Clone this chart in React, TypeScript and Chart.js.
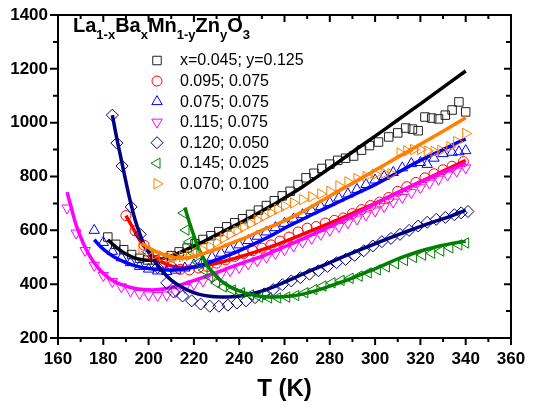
import React, { useEffect, useRef } from 'react';
import { Chart, registerables } from 'chart.js';

Chart.register(...registerables);

const FONT = '"Liberation Sans", Arial, Helvetica, sans-serif';

// Axes
const X_MIN = 160, X_MAX = 360, X_STEP = 20, X_MINOR = 10;
const Y_MIN = 200, Y_MAX = 1400, Y_STEP = 200, Y_MINOR = 100;
const X_TITLE = 'T (K)';

// Title: La(1-x)Ba(x)Mn(1-y)Zn(y)O(3)  [text, isSubscript]
const TITLE_PARTS: [string, number][] = [
  ['La', 0], ['1-x', 1], ['Ba', 0], ['x', 1], ['Mn', 0], ['1-y', 1], ['Zn', 0], ['y', 1], ['O', 0], ['3', 1],
];

const LABELS = [
  'x=0.045; y=0.125',
  '0.095; 0.075',
  '0.075; 0.075',
  '0.115; 0.075',
  '0.120; 0.050',
  '0.145; 0.025',
  '0.070; 0.100',
];

// Series 1: x=0.045; y=0.125 (squares, black)
const s1T = [182, 185.5, 189, 192.5, 196, 199.5, 203, 206.5, 210, 213.5, 217, 220.5, 224, 227.5, 231, 234.5, 238, 241.5, 245, 248.5, 252, 255.5, 259, 262.5, 266, 269.5, 273, 276.5, 280, 283.5, 287, 290.5, 294, 297.5, 301.5, 306, 310, 313.5, 316.5, 319, 322, 325, 328, 331, 334, 337, 340];
const s1R = [575, 548, 528, 510, 496, 490, 490, 497, 506, 520, 534, 550, 566, 580, 595, 613, 628, 643, 659, 675, 692, 710, 728, 745, 770, 795, 812, 830, 846, 860, 868, 876, 898, 915, 928, 947, 962, 980, 976, 970, 1021, 1017, 1014, 1028, 1047, 1077, 1040];
const f1T = [182, 186, 190, 194, 198, 202, 206, 210, 215, 220, 226, 232, 238, 244, 250, 256, 262, 268, 276, 284, 292, 300, 310, 320, 330, 340];
const f1R = [565, 535, 512, 497, 490, 490, 495, 505, 522, 542, 566, 592, 618, 644, 672, 700, 730, 762, 808, 855, 903, 950, 1010, 1070, 1131, 1192];

// Series 2: 0.095; 0.075 (circles, red)
const s2T = [190, 194, 198, 202, 206, 210, 214, 218, 222, 226, 230, 234, 238, 242, 246, 250, 254, 258, 262, 266, 270, 274, 278, 282, 286, 290, 294, 298, 302, 306, 310, 314, 318, 322, 326, 330, 334, 339];
const s2R = [655, 598, 545, 505, 480, 465, 455, 453, 460, 466, 478, 490, 503, 514, 524, 534, 546, 560, 575, 594, 608, 614, 627, 637, 646, 662, 677, 692, 705, 722, 745, 762, 778, 795, 810, 825, 838, 855];
const f2T = [190, 193, 196, 199, 202, 206, 210, 214, 218, 224, 230, 236, 242, 248, 254, 260, 270, 280, 290, 300, 310, 320, 330, 340];
const f2R = [655, 610, 565, 530, 505, 482, 468, 462, 462, 468, 478, 491, 506, 522, 539, 558, 592, 627, 663, 700, 740, 780, 820, 860];

// Series 3: 0.075; 0.075 (up triangles, blue)
const s3T = [176, 180, 184, 188, 192, 196, 200, 204, 208, 212, 216, 220, 224, 228, 232, 236, 240, 244, 248, 252, 256, 260, 264, 268, 272, 276, 280, 284, 288, 292, 296, 300, 304, 308, 312, 316, 320, 323, 326, 330, 334, 337, 340];
const s3R = [600, 555, 522, 498, 480, 466, 456, 449, 447, 452, 460, 472, 485, 500, 515, 530, 546, 562, 578, 594, 610, 626, 642, 658, 673, 688, 703, 720, 735, 752, 770, 787, 800, 815, 832, 848, 852, 845, 868, 885, 890, 892, 896];
const f3T = [176, 180, 185, 190, 195, 200, 206, 212, 218, 224, 230, 236, 242, 248, 254, 260, 266, 272, 280, 290, 300, 310, 320, 330, 340];
const f3R = [565, 530, 500, 480, 466, 458, 453, 453, 460, 472, 490, 510, 532, 555, 580, 608, 633, 658, 690, 730, 770, 815, 860, 900, 940];

// Series 4: 0.115; 0.075 (down triangles, magenta)
const s4T = [164, 168, 172, 176, 180, 184, 188, 192, 196, 200, 204, 208, 212, 216, 220, 224, 228, 232, 236, 240, 244, 248, 252, 256, 260, 264, 268, 272, 276, 280, 284, 288, 292, 296, 300, 304, 308, 312, 316, 320, 324, 328, 332, 336, 340];
const s4R = [683, 590, 525, 470, 432, 410, 390, 375, 365, 360, 358, 360, 372, 388, 400, 412, 425, 437, 450, 462, 475, 487, 500, 514, 528, 542, 556, 570, 585, 600, 614, 628, 642, 657, 672, 688, 705, 722, 740, 758, 775, 790, 805, 820, 832];
const f4T = [164, 166, 168, 171, 174, 177, 180, 184, 188, 193, 198, 203, 208, 213, 218, 224, 230, 236, 242, 249, 256, 263, 270, 280, 290, 300, 310, 320, 330, 340];
const f4R = [742, 680, 620, 555, 505, 468, 440, 414, 398, 386, 380, 379, 384, 394, 408, 425, 443, 462, 481, 500, 525, 550, 576, 614, 655, 698, 740, 780, 815, 850];

// Series 5: 0.120; 0.050 (diamonds, navy)
const s5T = [184, 186, 188.3, 192.3, 196.3, 200, 204, 208, 211, 215, 219, 223, 227, 231, 235, 239, 243, 247, 251, 255, 259, 263, 267, 271, 275, 279, 283, 287, 291, 295, 299, 303, 307, 311, 315, 319, 323, 327, 331, 335, 338, 341];
const s5R = [1028, 924, 839, 687, 585, 520, 462, 405, 371, 356, 338, 326, 318, 318, 322, 330, 338, 350, 364, 380, 398, 412, 424, 437, 450, 466, 480, 492, 507, 524, 542, 558, 570, 585, 600, 616, 630, 641, 648, 658, 665, 670];
const f5T = [184, 186, 188, 190, 192, 194, 196, 198, 201, 204, 207, 210, 214, 218, 222, 227, 232, 237, 242, 247, 252, 258, 264, 270, 278, 286, 294, 302, 310, 318, 326, 334, 340];
const f5R = [1028, 940, 860, 780, 705, 640, 590, 548, 505, 470, 440, 415, 392, 375, 363, 355, 352, 353, 358, 367, 380, 400, 422, 445, 473, 502, 530, 557, 583, 608, 632, 655, 675];

// Series 6: 0.145; 0.025 (left triangles, green)
const s6T = [215.5, 216.5, 218, 220, 222, 224.5, 227, 230, 233, 237, 241, 245, 249, 253, 257, 261, 265, 269, 273, 277, 281, 285, 289, 293, 297, 301, 305, 309, 313, 317, 321, 325, 329, 333, 337, 340];
const s6R = [664, 601, 557, 515, 480, 452, 427, 405, 390, 378, 368, 360, 352, 349, 349, 352, 358, 368, 380, 393, 405, 414, 422, 430, 442, 453, 464, 476, 488, 499, 508, 515, 523, 535, 546, 553];
const f6T = [216, 218, 220, 222, 224, 226, 229, 232, 236, 240, 245, 250, 256, 262, 268, 274, 280, 286, 292, 298, 304, 310, 316, 322, 328, 334, 340];
const f6R = [685, 630, 580, 535, 500, 468, 438, 412, 390, 375, 362, 354, 352, 355, 363, 376, 393, 410, 430, 450, 472, 494, 512, 528, 541, 551, 560];

// Series 7: 0.070; 0.100 (right triangles, orange)
const s7T = [197, 200, 203, 206, 209, 212, 215, 218, 221, 224, 227, 230, 233, 236, 239, 242, 245, 248, 251, 254, 257, 260, 264, 268, 272, 276, 280, 284, 288, 292, 296, 300, 304, 307, 311, 314, 317, 320, 323, 326, 329, 333, 336, 340];
const s7R = [534, 522, 512, 505, 500, 500, 502, 507, 515, 527, 540, 555, 570, 585, 598, 612, 625, 638, 652, 665, 678, 690, 702, 714, 725, 735, 745, 765, 780, 792, 800, 808, 812, 810, 887, 895, 900, 900, 895, 893, 897, 910, 930, 960];
const f7T = [197, 200, 204, 208, 212, 216, 220, 226, 232, 238, 244, 250, 258, 267, 277, 290, 300, 310, 320, 330, 340];
const f7R = [553, 535, 518, 505, 498, 497, 503, 518, 537, 557, 577, 600, 628, 665, 713, 775, 823, 872, 920, 968, 1018];

const MARKER_COLORS = ['#222222', '#ff0000', '#0000ff', '#ff00ff', '#000080', '#008000', '#ff8000'];
const LINE_COLORS = ['#000000', '#ff0000', '#0000ff', '#ff00ff', '#000080', '#008000', '#ff8000'];
const STYLES = ['rect', 'circle', 'triangle', 'triangle', 'rectRot', 'triangle', 'triangle'];
const ROTATIONS = [0, 0, 0, 180, 0, 270, 90];
const RADII = [6, 5, 6, 6, 6, 6, 6];

const SCATTER_T = [s1T, s2T, s3T, s4T, s5T, s6T, s7T];
const SCATTER_R = [s1R, s2R, s3R, s4R, s5R, s6R, s7R];
const FIT_T = [f1T, f2T, f3T, f4T, f5T, f6T, f7T];
const FIT_R = [f1R, f2R, f3R, f4R, f5R, f6R, f7R];

function pts(T: number[], R: number[]) {
  return T.map((t, i) => ({ x: t, y: R[i] }));
}

function drawMarker(ctx: CanvasRenderingContext2D, k: number, x: number, y: number) {
  const r = RADII[k];
  ctx.beginPath();
  if (STYLES[k] === 'circle') {
    ctx.arc(x, y, r, 0, Math.PI * 2);
  } else if (STYLES[k] === 'rect') {
    const s = r * Math.SQRT1_2;
    ctx.rect(x - s, y - s, 2 * s, 2 * s);
  } else if (STYLES[k] === 'rectRot') {
    ctx.moveTo(x, y - r);
    ctx.lineTo(x + r, y);
    ctx.lineTo(x, y + r);
    ctx.lineTo(x - r, y);
    ctx.closePath();
  } else {
    let rad = (ROTATIONS[k] * Math.PI) / 180;
    for (let i = 0; i < 3; i++) {
      const px = x + Math.sin(rad) * r;
      const py = y - Math.cos(rad) * r;
      if (i === 0) ctx.moveTo(px, py); else ctx.lineTo(px, py);
      rad += (2 * Math.PI) / 3;
    }
    ctx.closePath();
  }
  ctx.strokeStyle = MARKER_COLORS[k];
  ctx.lineWidth = 1;
  ctx.stroke();
}

const overlayPlugin = {
  id: 'overlay',
  afterDraw(chart: any) {
    const { ctx, chartArea: a, scales } = chart;
    const xs = scales.x, ys = scales.y;
    ctx.save();
    // frame
    ctx.strokeStyle = '#000';
    ctx.lineWidth = 2;
    ctx.strokeRect(a.left, a.top, a.right - a.left, a.bottom - a.top);
    // x ticks
    for (let v = X_MIN; v <= X_MAX; v += X_MINOR) {
      const px = xs.getPixelForValue(v);
      const major = v % X_STEP === 0;
      ctx.lineWidth = 2;
      ctx.beginPath();
      ctx.moveTo(px, a.bottom);
      ctx.lineTo(px, a.bottom + (major ? 7 : 4));
      ctx.moveTo(px, a.top);
      ctx.lineTo(px, a.top + (major ? 7 : 4));
      ctx.stroke();
    }
    for (let v = Y_MIN; v <= Y_MAX; v += Y_MINOR) {
      const py = ys.getPixelForValue(v);
      const major = v % Y_STEP === 0;
      ctx.lineWidth = 2;
      ctx.beginPath();
      ctx.moveTo(a.left, py);
      ctx.lineTo(a.left - (major ? 8 : 5), py);
      ctx.moveTo(a.right, py);
      ctx.lineTo(a.right - (major ? 7 : 5), py);
      ctx.stroke();
    }
    // title with subscripts
    let tx = 73;
    ctx.fillStyle = '#000';
    ctx.textBaseline = 'alphabetic';
    ctx.textAlign = 'left';
    for (const [txt, sub] of TITLE_PARTS) {
      ctx.font = sub ? `bold 13px ${FONT}` : `bold 20px ${FONT}`;
      ctx.fillText(txt, tx, sub ? 38.5 : 31.5);
      tx += ctx.measureText(txt).width;
    }
    // legend
    ctx.font = `16px ${FONT}`;
    ctx.textBaseline = 'middle';
    for (let k = 0; k < LABELS.length; k++) {
      const ly = 60.5 + k * 20.55;
      drawMarker(ctx, k, 157, ly);
      ctx.fillStyle = '#000';
      ctx.fillText(LABELS[k], 180, ly + 0.5);
    }
    ctx.restore();
  },
};

export default function App() {
  const ref = useRef<HTMLCanvasElement | null>(null);
  useEffect(() => {
    if (!ref.current) return;
    const datasets: any[] = [];
    let seq = 0;
    for (let k = 0; k < 7; k++) {
      datasets.push({
        label: LABELS[k],
        data: pts(SCATTER_T[k], SCATTER_R[k]),
        showLine: false,
        pointStyle: STYLES[k],
        pointRotation: ROTATIONS[k],
        pointRadius: RADII[k],
        pointBorderWidth: 1,
        pointBorderColor: MARKER_COLORS[k],
        pointBackgroundColor: 'rgba(0,0,0,0)',
        borderColor: MARKER_COLORS[k],
        order: 1000 - seq++,
      });
      datasets.push({
        label: LABELS[k] + ' fit',
        data: pts(FIT_T[k], FIT_R[k]),
        showLine: true,
        borderColor: LINE_COLORS[k],
        borderWidth: 3.5,
        pointRadius: 0,
        tension: 0.4,
        fill: false,
        order: 1000 - seq++,
      });
    }
    const chart = new Chart(ref.current, {
      type: 'scatter',
      data: { datasets },
      options: {
        animation: false,
        responsive: false,
        devicePixelRatio: 1,
        layout: { padding: { top: 15, right: 22, left: 0, bottom: 0 } },
        plugins: { legend: { display: false }, tooltip: { enabled: false } },
        scales: {
          x: {
            type: 'linear',
            min: X_MIN,
            max: X_MAX,
            ticks: {
              stepSize: X_STEP,
              color: '#000',
              padding: 3,
              maxRotation: 0,
              autoSkip: false,
              font: { family: FONT, size: 17, weight: 'bold' },
              callback: (v: any) => String(v),
            },
            grid: { display: false, drawTicks: true, tickLength: 8 },
            border: { display: false },
            title: {
              display: true,
              text: X_TITLE,
              color: '#000',
              font: { family: FONT, size: 24, weight: 'bold' },
              padding: { top: 0, bottom: 8 },
            },
            afterFit(s: any) { s.height = 74; },
          },
          y: {
            type: 'linear',
            min: Y_MIN,
            max: Y_MAX,
            ticks: {
              stepSize: Y_STEP,
              color: '#000',
              padding: 2,
              font: { family: FONT, size: 17, weight: 'bold' },
              callback: (v: any) => String(v),
            },
            grid: { display: false, drawTicks: true, tickLength: 8 },
            border: { display: false },
            afterFit(s: any) { s.width = 58; },
          },
        },
      },
      plugins: [overlayPlugin],
    } as any);
    return () => chart.destroy();
  }, []);
  return (
    <div style={{ position: 'fixed', left: 0, top: 0, width: 533, height: 412, background: '#fff' }}>
      <canvas ref={ref} width={533} height={412} style={{ display: 'block' }} />
    </div>
  );
}
